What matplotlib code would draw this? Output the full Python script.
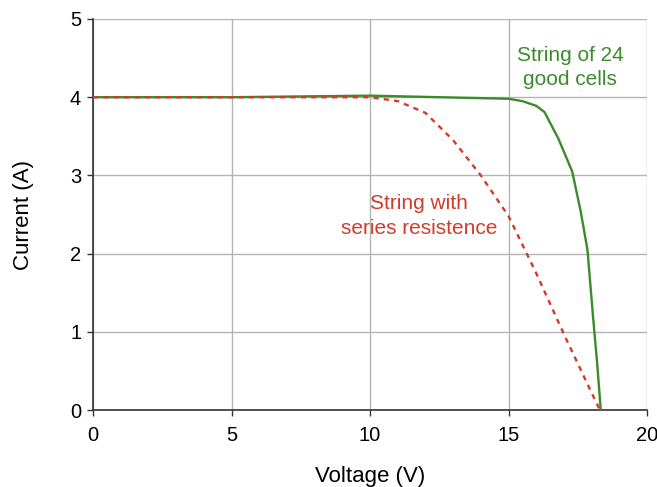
import matplotlib
matplotlib.use("Agg")
import matplotlib.pyplot as plt

plt.rcParams['font.family'] = ['Liberation Sans', 'DejaVu Sans']

# good string of 24 cells
good_v = [0, 5, 10, 15, 15.5, 16.0, 16.3, 16.8, 17.3, 17.6, 17.85, 18.05, 18.2, 18.33]
good_i = [4.0, 4.0, 4.02, 3.98, 3.95, 3.89, 3.81, 3.47, 3.05, 2.55, 2.05, 1.2, 0.6, 0.0]

# string with series resistance
bad_v = [0, 5, 10, 11, 12, 13, 14, 15, 16, 17, 18, 18.3]
bad_i = [4.0, 4.0, 4.0, 3.95, 3.8, 3.45, 3.0, 2.48, 1.75, 0.97, 0.22, 0.0]

green = '#3c8a2e'
red = '#d03c2a'

fig = plt.figure(figsize=(6.57, 4.87), dpi=100)
ax = fig.add_axes([0.1416, 0.158, 0.8432, 0.803])

ax.plot(good_v, good_i, color=green, lw=1.7, zorder=3)
ax.plot(bad_v, bad_i, color=red, lw=1.7, linestyle=(0, (2.2, 2.2)), zorder=4)

ax.set_xlim(0, 20)
ax.set_ylim(0, 5)
ax.set_xticks([0, 5, 10, 15, 20])
ax.set_yticks([0, 1, 2, 3, 4, 5])
ax.grid(True, color='#b4b4b4', lw=1.0)
ax.set_axisbelow(True)

for s in ['top', 'right']:
    ax.spines[s].set_visible(False)
for s in ['left', 'bottom']:
    ax.spines[s].set_color('#333333')
    ax.spines[s].set_linewidth(1.2)

ax.tick_params(axis='both', labelsize=14.5, length=4.5, width=1, color='#333333', pad=4)
ax.tick_params(axis='x', pad=7)
ax.set_xlabel('Voltage (V)', fontsize=16, labelpad=15)
ax.set_ylabel('Current (A)', fontsize=16, labelpad=26)

ax.text(17.22, 4.38, 'String of 24\ngood cells', color=green, fontsize=15,
        ha='center', va='center', linespacing=1.35)
ax.text(11.77, 2.48, 'String with\nseries resistence', color=red, fontsize=15,
        ha='center', va='center', linespacing=1.35)

fig.savefig('out.png', dpi=100)
